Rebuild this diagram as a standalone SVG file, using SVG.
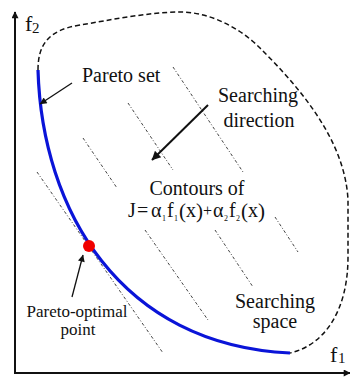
<svg xmlns="http://www.w3.org/2000/svg" width="350" height="377" viewBox="0 0 350 377">
<defs>
<style>
text { font-family: 'Liberation Serif', 'Times New Roman', serif; fill: #111; }
.lbl { font-size: 20px; }
.contour { fill: none; stroke: #444; stroke-width: 1; stroke-dasharray: 3 2 1 2; }
.ann { fill: none; stroke: #111; stroke-width: 1.3; }
.axis { fill: none; stroke: #111; stroke-width: 2; }
</style>
<marker id="ah" viewBox="0 0 10 10" refX="9.5" refY="5" markerWidth="9" markerHeight="7" markerUnits="userSpaceOnUse" orient="auto"><path d="M0,0 L10,5 L0,10 z" fill="#111"/></marker>
<marker id="ahBig" viewBox="0 0 10 10" refX="9.5" refY="5" markerWidth="11" markerHeight="9" markerUnits="userSpaceOnUse" orient="auto"><path d="M0,0 L10,5 L0,10 z" fill="#111"/></marker>
<marker id="axh" viewBox="0 0 10 10" refX="9" refY="5" markerWidth="9" markerHeight="7" markerUnits="userSpaceOnUse" orient="auto"><path d="M0,0 L10,5 L0,10 z" fill="#111"/></marker>
</defs>
<rect width="350" height="377" fill="#fff"/>

<g id="axes">
<line class="axis" x1="15" y1="374" x2="15" y2="12" marker-end="url(#axh)"/>
<line class="axis" x1="14" y1="373" x2="350" y2="373" marker-end="url(#axh)"/>
<text x="25" y="31" font-size="22">f</text><text x="32" y="33" font-size="15">2</text>
<text x="330" y="362" font-size="22">f</text><text x="338" y="363" font-size="15">1</text>
</g>

<g id="contours">
<line class="contour" x1="173" y1="67" x2="243" y2="172"/>
<line class="contour" x1="128" y1="103" x2="173" y2="170"/>
<line class="contour" x1="83" y1="138" x2="117" y2="188"/>
<line class="contour" x1="37" y1="172" x2="163" y2="353"/>
<line class="contour" x1="145" y1="230" x2="208" y2="320"/>
<line class="contour" x1="215" y1="230" x2="253" y2="287"/>
<line class="contour" x1="275" y1="217" x2="298" y2="252"/>
</g>

<g id="searching-space">
<path d="M38,70 C38,45 48,30 80,25 C110,20 150,12 180,12 C210,12 240,28 260,48 C300,88 345,140 348,200 L348,257 C348,310 325,345 290,353" fill="none" stroke="#111" stroke-width="1.5" stroke-dasharray="5 3"/>
<text class="lbl" x="275" y="308" text-anchor="middle">Searching</text>
<text class="lbl" x="275" y="328" text-anchor="middle">space</text>
</g>

<g id="pareto-set">
<path d="M38,70 C42,210 120,345 290,353" fill="none" stroke="#0a14d8" stroke-width="3.2"/>
</g>

<g id="pareto-optimal-point">
<circle cx="89" cy="246" r="6" fill="#f00000"/>
</g>

<g id="connectors">
<line class="ann" x1="72" y1="83" x2="40" y2="104" marker-end="url(#ah)"/>
<line class="ann" x1="72" y1="297" x2="83" y2="255" marker-end="url(#ah)"/>
<line x1="208" y1="105" x2="152" y2="160" stroke="#111" stroke-width="2" marker-end="url(#ahBig)"/>
</g>

<g id="label-pareto-set">
<text class="lbl" x="82" y="82">Pareto set</text>
</g>

<g id="label-direction">
<text class="lbl" x="258" y="102" text-anchor="middle">Searching</text>
<text class="lbl" x="259" y="127" text-anchor="middle">direction</text>
</g>

<g id="label-contours">
<text class="lbl" x="197" y="195" text-anchor="middle">Contours of</text>
<text class="lbl" y="217"><tspan x="128">J</tspan><tspan x="137">=</tspan><tspan x="151">α</tspan><tspan x="162" y="221" font-size="8">1</tspan><tspan x="167" y="217">f</tspan><tspan x="174" y="221" font-size="8">1</tspan><tspan x="179" y="218" font-size="21">(</tspan><tspan x="186" y="217">x</tspan><tspan x="196" y="218" font-size="21">)</tspan><tspan x="203" y="216" font-size="16">+</tspan><tspan x="213" y="217">α</tspan><tspan x="224" y="221" font-size="8">2</tspan><tspan x="229" y="217">f</tspan><tspan x="236" y="221" font-size="8">2</tspan><tspan x="241" y="218" font-size="21">(</tspan><tspan x="248" y="217">x</tspan><tspan x="258" y="218" font-size="21">)</tspan></text>
</g>

<g id="label-optimal">
<text x="77" y="317" font-size="17" text-anchor="middle">Pareto-optimal</text>
<text x="78" y="335" font-size="17" text-anchor="middle">point</text>
</g>
</svg>
